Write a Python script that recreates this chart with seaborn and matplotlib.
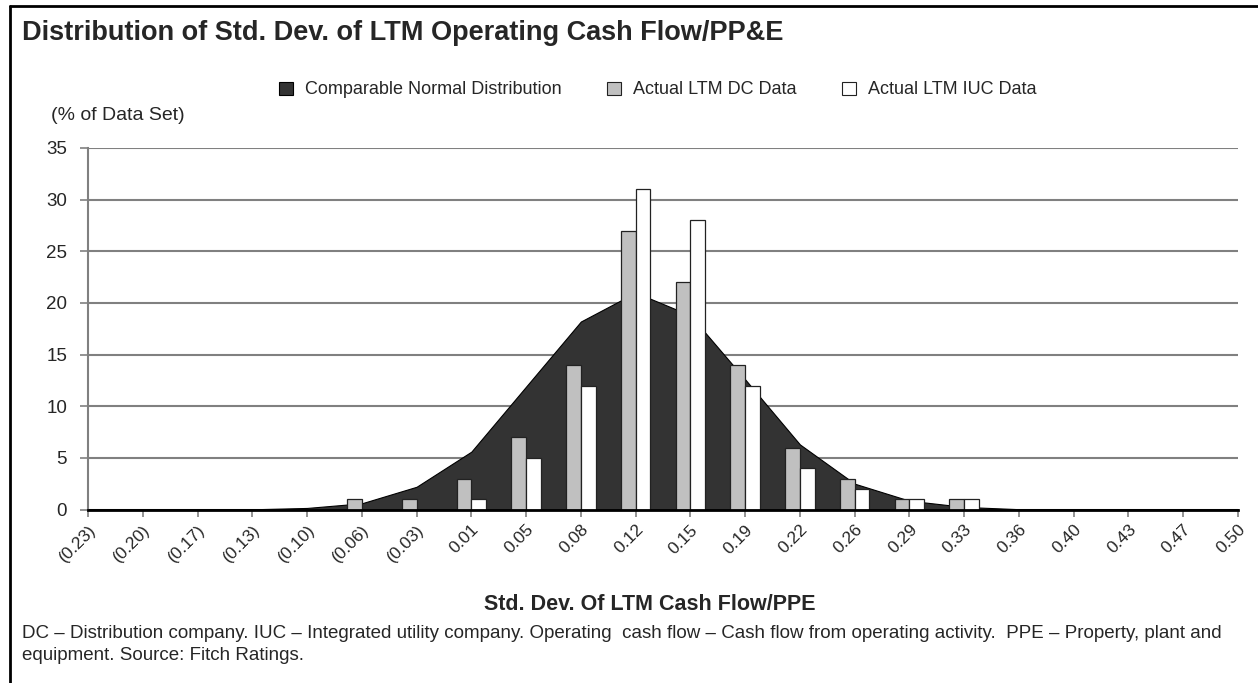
import matplotlib.pyplot as plt
import pandas as pd
import seaborn as sns
from matplotlib.lines import Line2D
from matplotlib.patches import Patch

# x buckets (std. dev. of LTM operating cash flow / PP&E)
categories = ['(0.23)', '(0.20)', '(0.17)', '(0.13)', '(0.10)', '(0.06)', '(0.03)', '0.01', '0.05',
              '0.08', '0.12', '0.15', '0.19', '0.22', '0.26', '0.29', '0.33', '0.36', '0.40',
              '0.43', '0.47', '0.50']
# % of data set
normal_dist = [0, 0, 0, 0.02, 0.15, 0.6, 2.2, 5.6, 11.9, 18.2, 21.0, 18.8, 12.6, 6.3, 2.5, 0.85,
               0.25, 0.03, 0, 0, 0, 0]
dc_data = [0, 0, 0, 0, 0, 1, 1, 3, 7, 14, 27, 22, 14, 6, 3, 1, 1, 0, 0, 0, 0, 0]
iuc_data = [0, 0, 0, 0, 0, 0, 0, 1, 5, 12, 31, 28, 12, 4, 2, 1, 1, 0, 0, 0, 0, 0]
series_names = ['Comparable Normal Distribution', 'Actual LTM DC Data', 'Actual LTM IUC Data']

W, H = 1258, 683
DARK = '#333333'
LIGHT = '#C0C0C0'
GRID = '#808080'
ARIAL = ['Liberation Sans', 'DejaVu Sans']

sns.set_style('white')
plt.rcParams['font.family'] = ARIAL

df = pd.DataFrame({
    'bucket': categories * 2,
    'share': dc_data + iuc_data,
    'series': [series_names[1]] * len(categories) + [series_names[2]] * len(categories),
})

fig = plt.figure(figsize=(W / 100, H / 100), dpi=100)
ax = fig.add_axes([88 / W, 1 - 509.5 / H, (1238 - 88) / W, (509.5 - 148) / H])

# normal distribution area behind the bars
ax.fill_between(range(len(categories)), normal_dist, color=DARK, edgecolor='black',
                linewidth=0.8, zorder=2)

sns.barplot(data=df, x='bucket', y='share', hue='series', order=categories,
            hue_order=series_names[1:], palette=[LIGHT, 'white'], edgecolor='#222222',
            linewidth=0.9, width=0.54, gap=0, errorbar=None, legend=False, ax=ax, zorder=3)

ax.set_xlim(0, len(categories) - 1)
ax.set_ylim(0, 35)
ax.set_yticks(range(0, 36, 5))
ax.set_xlabel('')
ax.set_ylabel('')
ax.set_axisbelow(True)
ax.yaxis.grid(True, color=GRID, linewidth=1.5)
ax.xaxis.grid(False)

for side in ['top', 'right']:
    ax.spines[side].set_visible(False)
ax.spines['left'].set_color(GRID)
ax.spines['left'].set_linewidth(1.5)
ax.spines['bottom'].set_color('black')
ax.spines['bottom'].set_linewidth(2)
ax.spines['bottom'].set_zorder(5)

ax.tick_params(axis='y', direction='out', length=6, width=1.2, color=GRID, pad=9,
               labelsize=13.5, left=True)
ax.tick_params(axis='x', direction='out', length=5, width=1.2, color=GRID, pad=4,
               labelsize=12.5, bottom=True)
ax.set_xticks(range(len(categories)))
ax.set_xticklabels(categories, rotation=45, ha='right', va='top', rotation_mode='anchor')

# texts
fig.text(22 / W, 1 - 33 / H, 'Distribution of Std. Dev. of LTM Operating Cash Flow/PP&E',
         fontsize=19.5, fontweight='bold', va='center')
fig.text(51 / W, 1 - 116 / H, '(% of Data Set)', fontsize=14, va='center')
fig.text(650 / W, 1 - 605 / H, 'Std. Dev. Of LTM Cash Flow/PPE', fontsize=15.5, fontweight='bold',
         ha='center', va='center')
fig.text(22 / W, 1 - 633 / H,
         'DC \u2013 Distribution company. IUC \u2013 Integrated utility company. Operating  cash flow '
         '\u2013 Cash flow from operating activity.  PPE \u2013 Property, plant and',
         fontsize=13.5, va='center')
fig.text(22 / W, 1 - 656 / H, 'equipment. Source: Fitch Ratings.', fontsize=13.5, va='center')

handles = [Patch(facecolor=DARK, edgecolor='black', linewidth=0.8),
           Patch(facecolor=LIGHT, edgecolor='#222222', linewidth=0.8),
           Patch(facecolor='white', edgecolor='#222222', linewidth=0.8)]
fig.legend(handles, series_names, loc='center', bbox_to_anchor=(658 / W, 1 - 90 / H), ncol=3,
           frameon=False, fontsize=13, handlelength=0.75, handleheight=0.75,
           handletextpad=0.7, columnspacing=2.5)

# outer frame (left and top edges)
fig.add_artist(Line2D([10 / W, 10 / W], [0, 1 - 6 / H], color='black', linewidth=2))
fig.add_artist(Line2D([10 / W, 1], [1 - 6 / H, 1 - 6 / H], color='black', linewidth=2))

plt.savefig('out.png', dpi=100)
